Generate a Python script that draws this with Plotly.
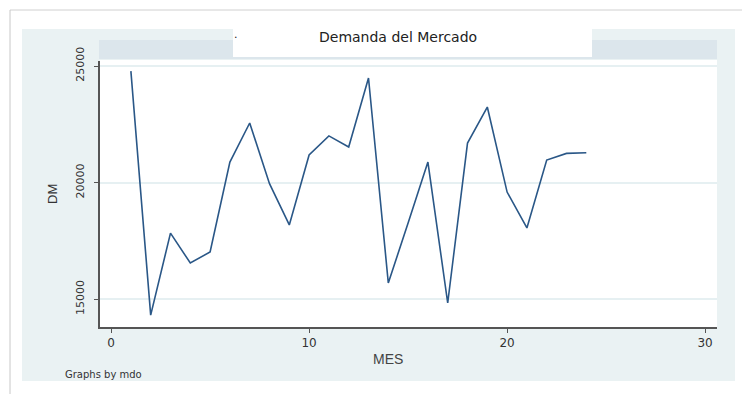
import plotly.graph_objects as go

# Monthly market demand series
mes = list(range(1, 25))
dm = [24780, 14310, 17830, 16545, 17020, 20880, 22555, 19950, 18180, 21180,
      22000, 21525, 24485, 15690, 18260, 20880, 14830, 21695, 23240, 19590,
      18050, 20965, 21250, 21280]

x_ticks = [0, 10, 20, 30]
y_ticks = [15000, 20000, 25000]
y_tick_text = ["15000", "20000", "25000"]

W, H = 742, 394
PANEL = "#EAF2F3"
BAND = "#DCE6EC"
LINE = "#2A5787"
AXIS = "#555555"
FONT = "DejaVu Sans"

# plot area in pixels
px0, px1 = 100, 717
py0, py1 = 61, 327


def fx(p):
    return p / W


def fy(p):
    return 1 - p / H


fig = go.Figure()
fig.add_trace(go.Scatter(
    x=mes, y=dm, mode="lines",
    line=dict(color=LINE, width=1.6),
    showlegend=False, hoverinfo="skip",
))

shapes = [
    # outer page frame
    dict(type="line", x0=fx(10), x1=1, y0=fy(10), y1=fy(10),
         line=dict(color="#D0D0D0", width=1)),
    dict(type="line", x0=fx(10), x1=fx(10), y0=fy(10), y1=0,
         line=dict(color="#C8C8C8", width=1)),
    # graph region background
    dict(type="rect", x0=fx(22), x1=fx(735), y0=fy(29), y1=fy(381),
         fillcolor=PANEL, line=dict(width=0), layer="below"),
    # by-group header band
    dict(type="rect", x0=fx(99), x1=fx(717), y0=fy(40), y1=fy(59),
         fillcolor=BAND, line=dict(width=0), layer="below"),
    # title box
    dict(type="rect", x0=fx(233), x1=fx(592), y0=fy(29), y1=fy(57),
         fillcolor="white", line=dict(width=0), layer="below"),
    # plot region
    dict(type="rect", x0=fx(px0), x1=fx(px1), y0=fy(py0 - 1), y1=fy(py1),
         fillcolor="white", line=dict(width=0), layer="below"),
]
for s in shapes:
    s.setdefault("xref", "paper")
    s.setdefault("yref", "paper")

annotations = [
    dict(text="Demanda del Mercado", x=fx(398), y=fy(37),
         font=dict(family=FONT, size=14, color="#222222")),
    dict(text=".", x=fx(236), y=fy(35),
         font=dict(family=FONT, size=11, color="#222222")),
    dict(text="DM", x=fx(52), y=fy(194), textangle=-90,
         font=dict(family="Liberation Sans", size=13, color="#333333")),
    dict(text="MES", x=fx(388), y=fy(359),
         font=dict(family="Liberation Sans", size=14, color="#444444")),
    dict(text="Graphs by mdo", x=fx(63), y=fy(374), xanchor="left",
         font=dict(family=FONT, size=10, color="#333333")),
]
for a in annotations:
    a.update(xref="paper", yref="paper", showarrow=False)
    a.setdefault("xanchor", "center")
    a.setdefault("yanchor", "middle")

fig.update_layout(
    width=W, height=H,
    margin=dict(l=0, r=0, t=0, b=0, autoexpand=False),
    paper_bgcolor="white",
    plot_bgcolor="white",
    shapes=shapes,
    annotations=annotations,
    xaxis=dict(
        domain=[fx(px0), fx(px1)],
        range=[-0.56, 30.6],
        tickvals=x_ticks,
        ticks="outside", ticklen=4, tickcolor=AXIS, tickwidth=1.2,
        showline=True, linecolor=AXIS, linewidth=1.5,
        showgrid=False, zeroline=False, automargin=False,
        tickfont=dict(family=FONT, size=12, color="#333333"),
    ),
    yaxis=dict(
        domain=[fy(py1), fy(py0)],
        range=[13800, 25215],
        tickvals=y_ticks, ticktext=y_tick_text,
        tickangle=-90,
        ticks="outside", ticklen=4, tickcolor=AXIS, tickwidth=1.2,
        ticklabelstandoff=6,
        showline=True, linecolor=AXIS, linewidth=1.5,
        showgrid=True, gridcolor="#E6F0F2", gridwidth=1.5,
        zeroline=False, automargin=False,
        tickfont=dict(family=FONT, size=11, color="#333333"),
    ),
)

fig.write_html("out.html")
